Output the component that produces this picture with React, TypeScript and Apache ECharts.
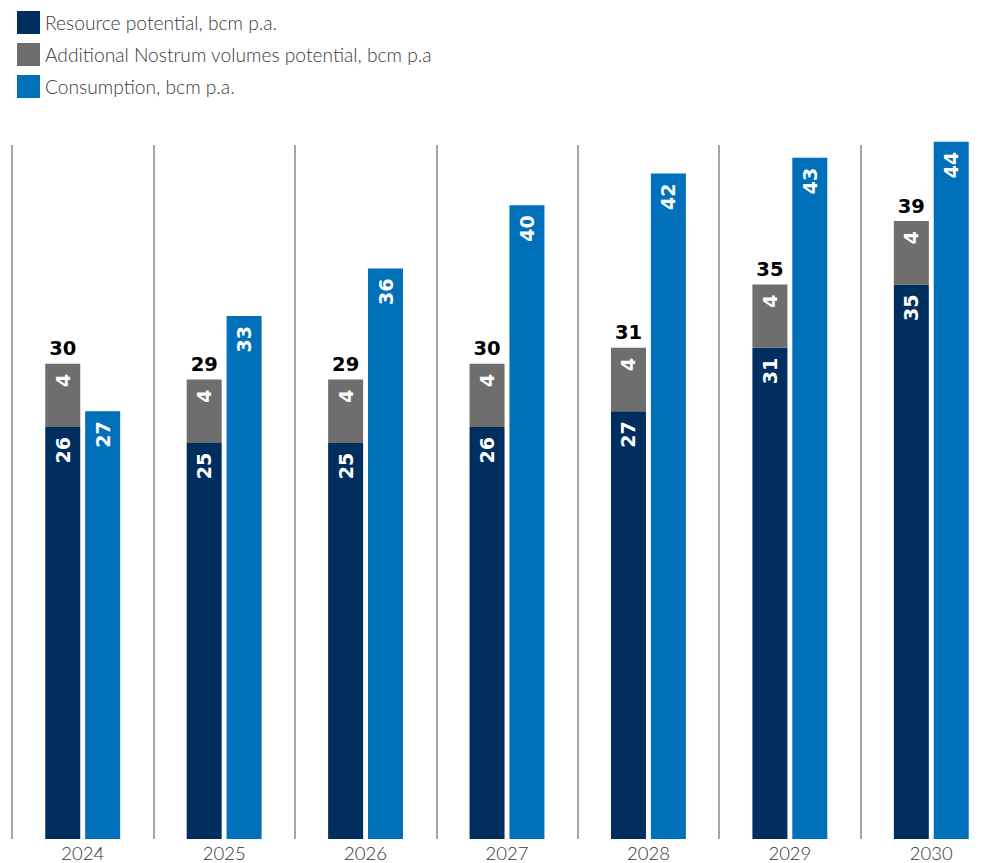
import React, { useEffect, useRef } from "react";
import * as echarts from "echarts";

const categories = ["2024", "2025", "2026", "2027", "2028", "2029", "2030"];
const resourcePotential = [26, 25, 25, 26, 27, 31, 35];
const additionalNostrum = [4, 4, 4, 4, 4, 4, 4];
const consumption = [27, 33, 36, 40, 42, 43, 44];
const supplyTotals = [30, 29, 29, 30, 31, 35, 39];

const NAVY = "#002F5F";
const GRAY = "#6E6E6E";
const BLUE = "#0070BA";

const innerLabel = {
  show: true,
  position: "insideTop",
  rotate: 90,
  align: "right",
  verticalAlign: "middle",
  distance: 10,
  color: "#ffffff",
  fontFamily: "DejaVu Sans",
  fontWeight: "bold",
  fontSize: 19,
};

export default function App() {
  const ref = useRef<HTMLDivElement>(null);
  useEffect(() => {
    if (!ref.current) return;
    const chart = echarts.init(ref.current, null, { renderer: "svg" });
    chart.setOption({
      animation: false,
      backgroundColor: "#ffffff",
      legend: {
        orient: "vertical",
        left: 12,
        top: 6,
        icon: "rect",
        itemWidth: 23,
        itemHeight: 23,
        itemGap: 9,
        data: [
          "Resource potential, bcm p.a.",
          "Additional Nostrum volumes potential, bcm p.a",
          "Consumption, bcm p.a.",
        ],
        textStyle: {
          fontFamily: "Lato",
          fontWeight: 300,
          fontSize: 19.2,
          color: "#3a3a3a",
          padding: [0, 0, 0, 0],
        },
      },
      grid: {
        left: 12,
        top: 145,
        width: 990,
        bottom: 24,
        containLabel: false,
        outerBoundsMode: "none",
      },
      xAxis: {
        type: "category",
        data: categories,
        axisLine: { show: false },
        axisTick: { show: false },
        axisLabel: { color: "#333333", fontFamily: "Lato", fontWeight: 300, fontSize: 18.5, margin: 4 },
        splitLine: { show: true, lineStyle: { color: "#8a8a8a", width: 1.5 } },
      },
      yAxis: {
        type: "value",
        min: 0,
        max: 43.8,
        show: false,
        splitLine: { show: false },
      },
      series: [
        {
          name: "Resource potential, bcm p.a.",
          type: "bar",
          stack: "supply",
          barWidth: 35,
          barGap: "14%",
          clip: false,
          itemStyle: { color: NAVY },
          label: innerLabel,
          data: resourcePotential,
        },
        {
          name: "Additional Nostrum volumes potential, bcm p.a",
          type: "bar",
          stack: "supply",
          barWidth: 35,
          barGap: "14%",
          clip: false,
          itemStyle: { color: GRAY },
          label: innerLabel,
          data: additionalNostrum,
        },
        {
          name: "Total",
          type: "bar",
          stack: "supply",
          barWidth: 35,
          barGap: "14%",
          clip: false,
          itemStyle: { color: "transparent" },
          label: {
            show: true,
            position: "top",
            distance: 5,
            color: "#000000",
            fontFamily: "DejaVu Sans",
            fontWeight: "bold",
            fontSize: 19.5,
            formatter: (p: any) => String(supplyTotals[p.dataIndex]),
          },
          data: supplyTotals.map(() => 0),
        },
        {
          name: "Consumption, bcm p.a.",
          type: "bar",
          barWidth: 35,
          barGap: "14%",
          clip: false,
          itemStyle: { color: BLUE },
          label: innerLabel,
          data: consumption,
        },
      ],
    });
    return () => chart.dispose();
  }, []);
  return (
    <div
      ref={ref}
      style={{ position: "absolute", left: 0, top: 0, width: 984, height: 863 }}
    />
  );
}
